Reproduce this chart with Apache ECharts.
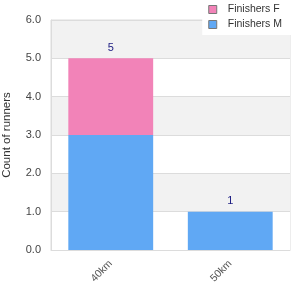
<!DOCTYPE html>
<html><head><meta charset="utf-8">
<script src="https://cdn.jsdelivr.net/npm/echarts@6/dist/echarts.min.js"></script>
<style>html,body{margin:0;padding:0;background:#fff}#c{width:300px;height:300px}</style>
</head><body><div id="c"></div>
<script>
const categories = ['40km', '50km'];
const finishersF = [2, 0];
const finishersM = [3, 1];
const totals = [5, 1];
const yTicks = [0, 1, 2, 3, 4, 5, 6];

const chart = echarts.init(document.getElementById('c'), null, {renderer: 'canvas'});
const font = 'Liberation Sans';
chart.setOption({
  animation: false,
  textStyle: {fontFamily: font},
  grid: {left: 51, right: 10, top: 20, bottom: 50, show: true, borderColor: '#dcdcdc', borderWidth: 1,
         containLabel: false, outerBoundsMode: 'none'},
  legend: {
    right: 0, top: 0, orient: 'vertical', backgroundColor: '#fff',
    padding: [4, 18, 5, 6], itemGap: 4, itemWidth: 8, itemHeight: 8, icon: 'rect',
    textStyle: {fontSize: 10.5, color: '#333', fontFamily: font, padding: [0, 0, 0, 6]},
    data: [
      {name: 'Finishers F', itemStyle: {borderColor: '#777', borderWidth: 1}},
      {name: 'Finishers M', itemStyle: {borderColor: '#777', borderWidth: 1}}
    ]
  },
  xAxis: {
    type: 'category', data: categories,
    axisLine: {lineStyle: {color: '#dcdcdc'}}, axisTick: {show: false},
    axisLabel: {rotate: 45, color: '#555', fontSize: 10.5, margin: 12, fontFamily: font}
  },
  yAxis: {
    type: 'value', min: yTicks[0], max: yTicks[yTicks.length - 1], interval: 1,
    name: 'Count of runners', nameLocation: 'middle', nameGap: 38, nameRotate: 90,
    nameTextStyle: {fontSize: 11.5, color: '#333', fontFamily: font},
    axisLine: {show: true, lineStyle: {color: '#dcdcdc'}},
    axisLabel: {formatter: v => v.toFixed(1), color: '#444', fontSize: 11, margin: 10, fontFamily: font},
    splitLine: {lineStyle: {color: '#dcdcdc'}},
    splitArea: {show: true, areaStyle: {color: ['#ffffff', '#f2f2f2']}}
  },
  series: [
    {name: 'Finishers M', type: 'bar', stack: 'a', data: finishersM, barWidth: '71%',
     itemStyle: {color: '#60a8f4'}},
    {name: 'Finishers F', type: 'bar', stack: 'a', data: finishersF, barWidth: '71%',
     itemStyle: {color: '#f283b8'},
     label: {show: true, position: 'top', color: '#1a1a80', fontSize: 11, distance: 5,
       fontFamily: font, formatter: p => String(totals[p.dataIndex])}}
  ]
});
</script></body></html>
